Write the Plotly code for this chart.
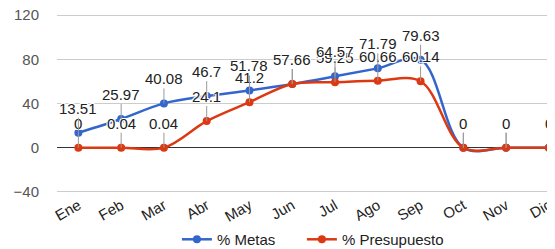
import plotly.graph_objects as go

months = ["Ene", "Feb", "Mar", "Abr", "May", "Jun", "Jul", "Ago", "Sep", "Oct", "Nov", "Dic"]
metas = [13.51, 25.97, 40.08, 46.7, 51.78, 57.66, 64.57, 71.79, 79.63, 0, 0, 0]
presupuesto = [0, 0.04, 0.04, 24.1, 41.2, 57.66, 59.25, 60.66, 60.14, 0, 0, 0]
y_ticks = [-40, 0, 40, 80, 120]

BLUE = "#3366CC"
RED = "#DC3912"
FONT = "Arial, Liberation Sans, sans-serif"

fig = go.Figure()
fig.add_trace(go.Scatter(x=months, y=metas, name="% Metas", mode="lines+markers",
                         line=dict(color=BLUE, width=2.5, shape="spline", smoothing=1),
                         marker=dict(size=8, color=BLUE), legend="legend"))
fig.add_trace(go.Scatter(x=months, y=presupuesto, name="% Presupuesto", mode="lines+markers",
                         line=dict(color=RED, width=2.5, shape="spline", smoothing=1),
                         marker=dict(size=8, color=RED), legend="legend2"))

halo = "1px 1px 0px #fff, -1px -1px 0px #fff, 1px -1px 0px #fff, -1px 1px 0px #fff"
annotations = []
for series in (presupuesto, metas):
    for m, v in zip(months, series):
        annotations.append(dict(
            x=m, y=v, xref="x", yref="y", text=f"{v:g}",
            showarrow=True, arrowhead=0, arrowwidth=1, arrowcolor="#999999",
            ax=0, ay=-15, yanchor="bottom", standoff=0, startstandoff=0,
            borderpad=0,
            font=dict(family=FONT, size=15, color="#222222", shadow=halo),
        ))

leg_common = dict(orientation="h", xanchor="left", y=-0.26, yanchor="middle",
                  font=dict(size=15, color="#222222"), itemwidth=30,
                  bgcolor="rgba(0,0,0,0)")

fig.update_layout(
    width=555, height=249,
    margin=dict(l=49, r=0, t=6, b=64, autoexpand=False),
    paper_bgcolor="white", plot_bgcolor="white",
    font=dict(family=FONT, size=15, color="#444444"),
    showlegend=True,
    legend=dict(x=0.237, **leg_common),
    legend2=dict(x=0.484, **leg_common),
    annotations=annotations,
)
fig.update_xaxes(range=[-0.5, 11.33], tickangle=-30, showgrid=False, zeroline=False,
                 showline=False, ticks="", automargin=False, ticklabeloverflow="allow",
                 tickfont=dict(size=15, color="#222222"))
fig.update_yaxes(range=[-41, 121], tickvals=y_ticks, showgrid=True, gridcolor="#cccccc",
                 gridwidth=1, zeroline=True, zerolinecolor="#333333", zerolinewidth=1,
                 showline=False, ticks="", automargin=False, ticklabeloverflow="allow",
                 tickfont=dict(size=15, color="#555555"), ticklabelstandoff=17)

fig.write_html("out.html")
